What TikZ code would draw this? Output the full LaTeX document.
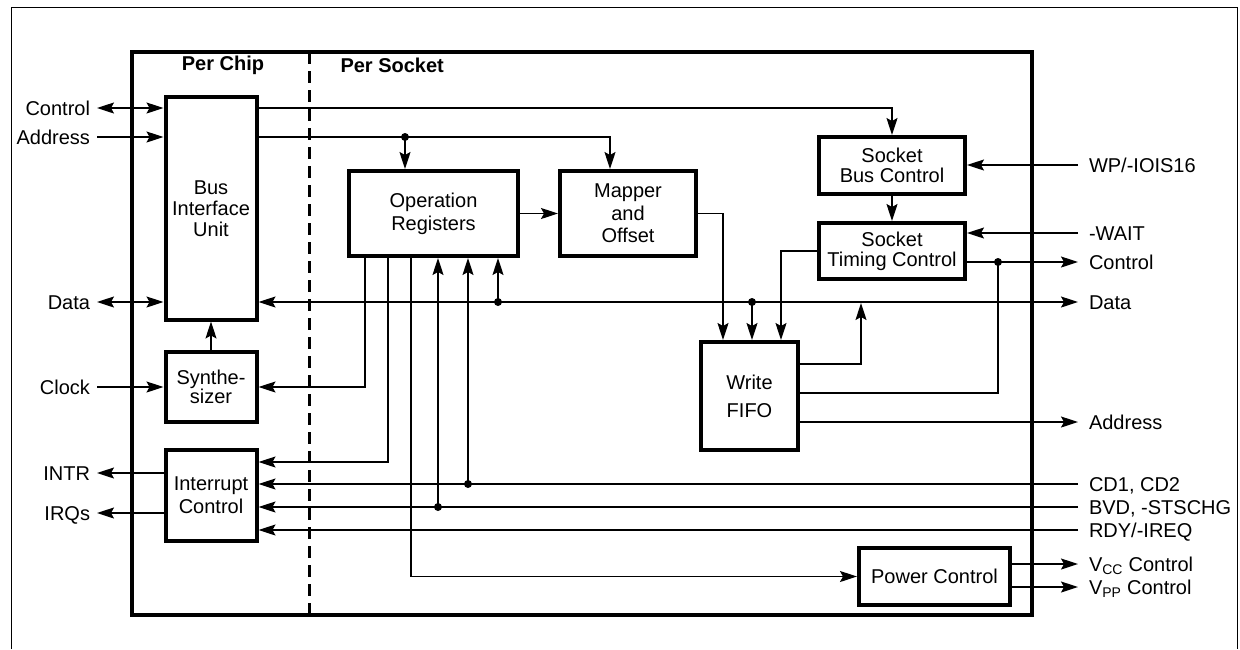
\documentclass[tikz,border=0pt]{standalone}
\usepackage{fontspec}
\setmainfont{Liberation Sans}
\usetikzlibrary{arrows.meta}
\begin{document}
\begin{tikzpicture}[x=1pt,y=-1pt,
  every node/.style={font=\fontsize{20}{21}\selectfont},
  >={Stealth[length=17pt,width=11pt,inset=3pt]},
  wire/.style={line width=1.4pt},
  blk/.style={draw,line width=4pt,align=center,inner sep=0pt},
  dot/.style={circle,fill,inner sep=0pt,minimum size=8pt},
  lbl/.style={inner sep=0pt,text height=14.3pt,text depth=0pt},
  ll/.style={lbl,anchor=east,outer xsep=7pt},
  rl/.style={lbl,anchor=west,outer xsep=11pt},
  hdr/.style={font=\bfseries\fontsize{20}{21}\selectfont}]
\useasboundingbox (0,0) rectangle (1240,649);
% frames
\draw[line width=1pt] (11,649) -- (11,7) -- (1237,7) -- (1237,649);
\draw[line width=3pt, dash pattern=on 12pt off 7pt] (309,52) -- (309,615);
\draw[line width=4pt] (132,52) rectangle (1032,615);
\node[hdr] (pchip) at (223,65) {Per Chip};
\node[hdr,anchor=west] (psock) at (337,65) {Per Socket};
% blocks
\node[blk,minimum width=91pt,minimum height=222.5pt] (biu) at (211,208.25) {Bus\\Interface\\Unit};
\node[blk,minimum width=91pt,minimum height=70pt,font=\fontsize{20}{19}\selectfont] (syn) at (211,387) {Synthe-\\sizer};
\node[blk,minimum width=91pt,minimum height=91pt,font=\fontsize{20}{23}\selectfont] (ic) at (211,495.5) {Interrupt\\Control};
\node[blk,minimum width=169pt,minimum height=85pt,font=\fontsize{20}{23}\selectfont] (opr) at (433.5,213.5) {Operation\\Registers};
\node[blk,minimum width=136pt,minimum height=85pt,font=\fontsize{20}{22.5}\selectfont] (map) at (628,213.5) {Mapper\\and\\Offset};
\node[blk,minimum width=146pt,minimum height=57pt,font=\fontsize{20}{20}\selectfont] (sbc) at (892,165.5) {Socket\\Bus Control};
\node[blk,minimum width=146pt,minimum height=56pt,font=\fontsize{20}{20}\selectfont] (stc) at (892,251) {Socket\\Timing Control};
\node[blk,minimum width=97pt,minimum height=108pt,font=\fontsize{20}{28}\selectfont] (fifo) at (749.5,396) {Write\\FIFO};
\node[blk,minimum width=151pt,minimum height=57pt] (pwr) at (934.5,576.5) {Power Control};
% left labels
\node[ll] (lctl) at (97,108) {Control};
\node[ll] (ladr) at (97,137) {Address};
\node[ll] (ldat) at (97,302) {Data};
\node[ll] (lclk) at (97,387) {Clock};
\node[ll] (lint) at (97,473) {INTR};
\node[ll] (lirq) at (97,513) {IRQs};
% right labels
\node[rl] (rwp) at (1078,165) {WP/-IOIS16};
\node[rl] (rwait) at (1078,233) {-WAIT};
\node[rl] (rctl) at (1078,262) {Control};
\node[rl] (rdat) at (1078,302) {Data};
\node[rl] (radr) at (1078,422) {Address};
\node[rl] (rcd) at (1078,484) {CD1, CD2};
\node[rl] (rbvd) at (1078,507) {BVD, -STSCHG};
\node[rl] (rrdy) at (1078,530) {RDY/-IREQ};
\node[rl] (rvcc) at (1078,564) {V\textsubscript{CC} Control};
\node[rl] (rvpp) at (1078,587) {V\textsubscript{PP} Control};
% dots
\node[dot] (d1) at (405,137) {};
\node[dot] (d2) at (498,302) {};
\node[dot] (d3) at (752,302) {};
\node[dot] (d4) at (998,262) {};
\node[dot] (d5) at (468,484) {};
\node[dot] (d6) at (438,507) {};
% helper coordinates
\coordinate (xa) at (365,0);
\coordinate (xb) at (388,0);
\coordinate (xc) at (411,0);
\coordinate (mapin) at (610,0);
\coordinate (fa) at (723,0);
\coordinate (fc) at (781,0);
\coordinate (up) at (861,303);
\coordinate (y364) at (0,364);
\coordinate (y393) at (0,393);
\coordinate (y462) at (0,462);
% connectors
\begin{scope}[wire]
\draw[<->] (lctl.east) -- (lctl.east -| biu.west);
\draw[->] (ladr.east) -- (ladr.east -| biu.west);
\draw[<->] (ldat.east) -- (ldat.east -| biu.west);
\draw[->] (lclk.east) -- (lclk.east -| syn.west);
\draw[->] (lint.east -| ic.west) -- (lint.east);
\draw[->] (lirq.east -| ic.west) -- (lirq.east);
\draw[->] (syn.north) -- (biu.south);
\draw[->] (lctl.east -| biu.east) -| (sbc.north);
\draw[->] (ladr.east -| biu.east) -| (mapin |- map.north);
\draw[->] (d1.center) -- (d1.center |- opr.north);
\draw[->] (opr.east) -- (map.west);
\draw[->] (sbc.south) -- (stc.north);
\draw[->] (rwp.west) -- (rwp.west -| sbc.east);
\draw[->] (rwait.west) -- (rwait.west -| stc.east);
\draw[->] (rctl.west -| stc.east) -- (rctl.west);
\draw[<->] (rdat.west -| biu.east) -- (rdat.west);
\draw[->] (d2.center) -- (d2.center |- opr.south);
\draw[->] (d3.center) -- (d3.center |- fifo.north);
\draw[->] (map.east) -| (fa |- fifo.north);
\draw[->] (stc.west) -| (fc |- fifo.north);
\draw[->] (fifo.east |- y364) -| (up);
\draw (fifo.east |- y393) -| (d4.center);
\draw[->] (radr.west -| fifo.east) -- (radr.west);
\draw[->] (xa |- opr.south) |- (syn.east);
\draw[->] (xb |- opr.south) |- (ic.east |- y462);
\draw[->] (xc |- opr.south) |- (pwr.west);
\draw[->] (d6.center) -- (d6.center |- opr.south);
\draw[->] (d5.center) -- (d5.center |- opr.south);
\draw[->] (rcd.west) -- (rcd.west -| ic.east);
\draw[->] (rbvd.west) -- (rbvd.west -| ic.east);
\draw[->] (rrdy.west) -- (rrdy.west -| ic.east);
\draw[->] (pwr.east |- rvcc.west) -- (rvcc.west);
\draw[->] (pwr.east |- rvpp.west) -- (rvpp.west);
\end{scope}
\end{tikzpicture}
\end{document}
